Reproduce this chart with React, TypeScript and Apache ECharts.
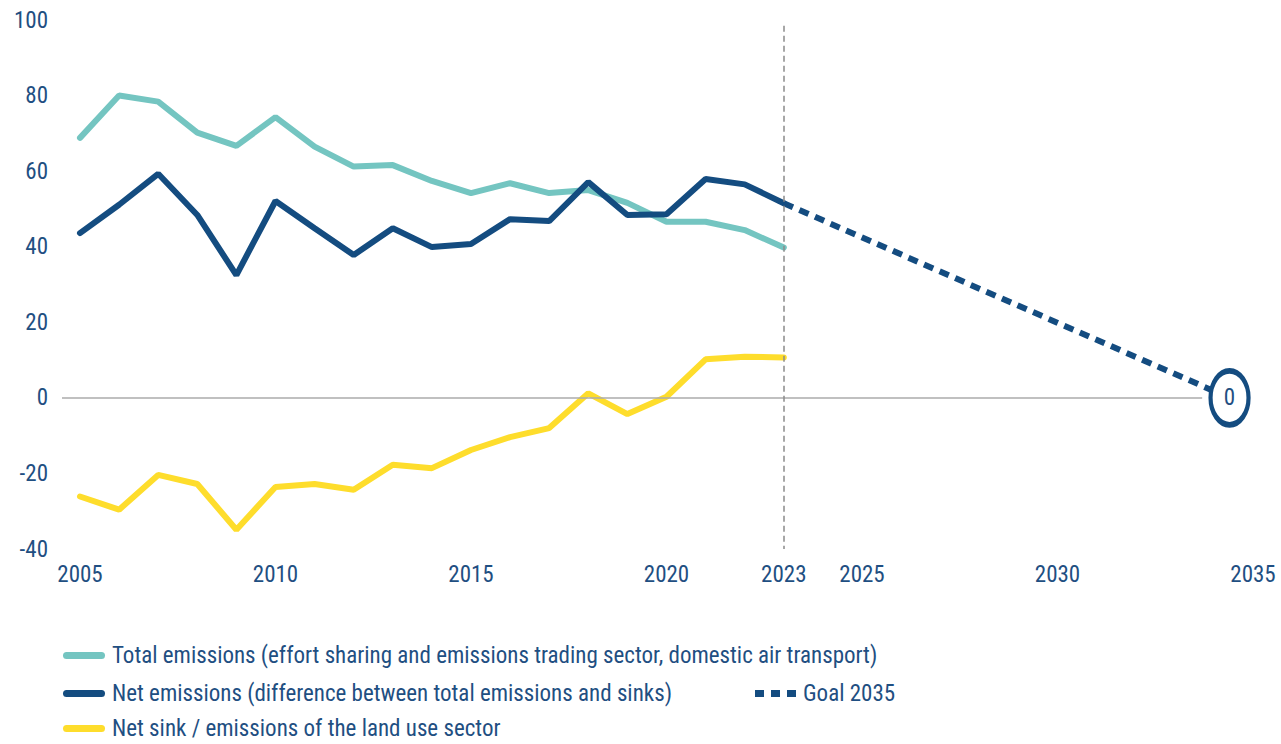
import React, { useEffect, useRef } from "react";
import * as echarts from "echarts";

const years = [2005, 2006, 2007, 2008, 2009, 2010, 2011, 2012, 2013, 2014, 2015, 2016, 2017, 2018, 2019, 2020, 2021, 2022, 2023];
const totalEmissions = [68.8, 80.0, 78.4, 70.2, 66.7, 74.3, 66.5, 61.2, 61.6, 57.4, 54.2, 56.8, 54.2, 55.0, 51.6, 46.6, 46.6, 44.4, 39.8];
const netEmissions = [43.6, 51.1, 59.3, 48.4, 32.5, 52.1, 44.9, 37.8, 44.9, 39.9, 40.7, 47.3, 46.8, 57.1, 48.4, 48.6, 57.9, 56.5, 51.5];
const landUse = [-26.1, -29.6, -20.4, -22.8, -34.9, -23.6, -22.8, -24.3, -17.7, -18.6, -13.8, -10.4, -8.0, 1.2, -4.3, 0.3, 10.2, 10.9, 10.7];
const goalYears = [2023, 2034.4];
const goalValues = [51.5, 0];
const xTickLabels = [2005, 2010, 2015, 2020, 2023, 2025, 2030, 2035];

const NAMES = {
  total: "Total emissions (effort sharing and emissions trading sector, domestic air transport)",
  net: "Net emissions (difference between total emissions and sinks)",
  land: "Net sink / emissions of the land use sector",
  goal: "Goal 2035",
};

const TEAL = "#74c5c1";
const NAVY = "#144c80";
const YELLOW = "#fedd2c";
const TEXT = "#1f4f82";
const FONT = "'Roboto Condensed', 'Liberation Sans Narrow', 'DejaVu Sans Condensed', Roboto, sans-serif";

export default function App() {
  const ref = useRef<HTMLDivElement>(null);
  useEffect(() => {
    document.body.style.margin = "0";
    const chart = echarts.init(ref.current!, null, { renderer: "svg" });
    const lineIcon = "path://M4,0h40a4,4 0 0 1 0,8h-40a4,4 0 0 1 0,-8z";
    const dotsIcon = "path://M0,0h9v7h-9z M16,0h9v7h-9z M32,0h9v7h-9z";
    const legendBase = {
      orient: "horizontal" as const,
      itemWidth: 42,
      itemHeight: 7,
      itemGap: 20,
      padding: 0,
      selectedMode: false,
      itemStyle: { borderWidth: 0 },
      textStyle: { color: TEXT, fontSize: 23, fontFamily: FONT, padding: [0, 0, 0, 2] },
    };
    chart.setOption({
      animation: false,
      textStyle: { fontFamily: FONT },
      grid: { left: 62, right: 28, top: 20, bottom: 195, containLabel: false },
      xAxis: {
        type: "value",
        min: 2004.54,
        max: 2035,
        axisLine: { show: false },
        axisTick: { show: false },
        splitLine: { show: false },
        axisLabel: {
          customValues: xTickLabels,
          formatter: (v: number) => String(v),
          color: TEXT,
          fontSize: 23,
          fontFamily: FONT,
          margin: 14,
        },
      },
      yAxis: {
        type: "value",
        min: -40,
        max: 100,
        interval: 20,
        axisLine: { show: false },
        axisTick: { show: false },
        splitLine: { show: false },
        axisLabel: { color: TEXT, fontSize: 23, fontFamily: FONT, margin: 14 },
      },
      legend: [
        { ...legendBase, left: 63, top: 644, data: [{ name: NAMES.total, icon: lineIcon }] },
        { ...legendBase, left: 63, top: 682, data: [{ name: NAMES.net, icon: lineIcon }] },
        { ...legendBase, left: 755, top: 682, itemWidth: 41, data: [{ name: NAMES.goal, icon: dotsIcon }] },
        { ...legendBase, left: 63, top: 717, data: [{ name: NAMES.land, icon: lineIcon }] },
      ],
      series: [
        {
          name: NAMES.total,
          type: "line",
          data: years.map((y, i) => [y, totalEmissions[i]]),
          symbol: "none",
          color: TEAL,
          lineStyle: { width: 6, color: TEAL, cap: "round" },
          z: 2,
          markLine: {
            silent: true,
            symbol: "none",
            label: { show: false },
            data: [
              [{ coord: [2004.54, 0] }, { coord: [2033.7, 0] }],
            ],
            lineStyle: { color: "#ababab", width: 1.5, type: "solid" },
          },
        },
        {
          name: NAMES.land,
          type: "line",
          data: years.map((y, i) => [y, landUse[i]]),
          symbol: "none",
          color: YELLOW,
          lineStyle: { width: 6, color: YELLOW, cap: "round" },
          z: 2,
          markLine: {
            silent: true,
            symbol: "none",
            label: { show: false },
            data: [[{ coord: [2023, 98.5] }, { coord: [2023, -40] }]],
            lineStyle: { color: "#8a8a8a", width: 1.5, type: [6, 4] },
          },
        },
        {
          name: NAMES.net,
          type: "line",
          data: years.map((y, i) => [y, netEmissions[i]]),
          symbol: "none",
          color: NAVY,
          lineStyle: { width: 6, color: NAVY, cap: "round" },
          z: 3,
        },
        {
          name: NAMES.goal,
          type: "line",
          color: NAVY,
          showSymbol: true,
          z: 4,
          lineStyle: { width: 6, color: NAVY, type: [10, 7] },
          data: goalYears.map((y, i) =>
            i === goalYears.length - 1
              ? {
                  value: [y, goalValues[i]],
                  symbol: "path://M0,50a50,50 0 1,0 100,0a50,50 0 1,0 -100,0z",
                  symbolSize: [38, 54],
                  symbolKeepAspect: false,
                  itemStyle: { color: "#ffffff", borderColor: NAVY, borderWidth: 5 },
                  label: {
                    show: true,
                    position: "inside",
                    formatter: String(goalValues[i]),
                    color: TEXT,
                    fontSize: 23,
                    fontFamily: FONT,
                  },
                }
              : { value: [y, goalValues[i]], symbol: "none" }
          ),
        },
      ],
    });
    return () => chart.dispose();
  }, []);
  return <div ref={ref} style={{ width: 1281, height: 744 }} />;
}
